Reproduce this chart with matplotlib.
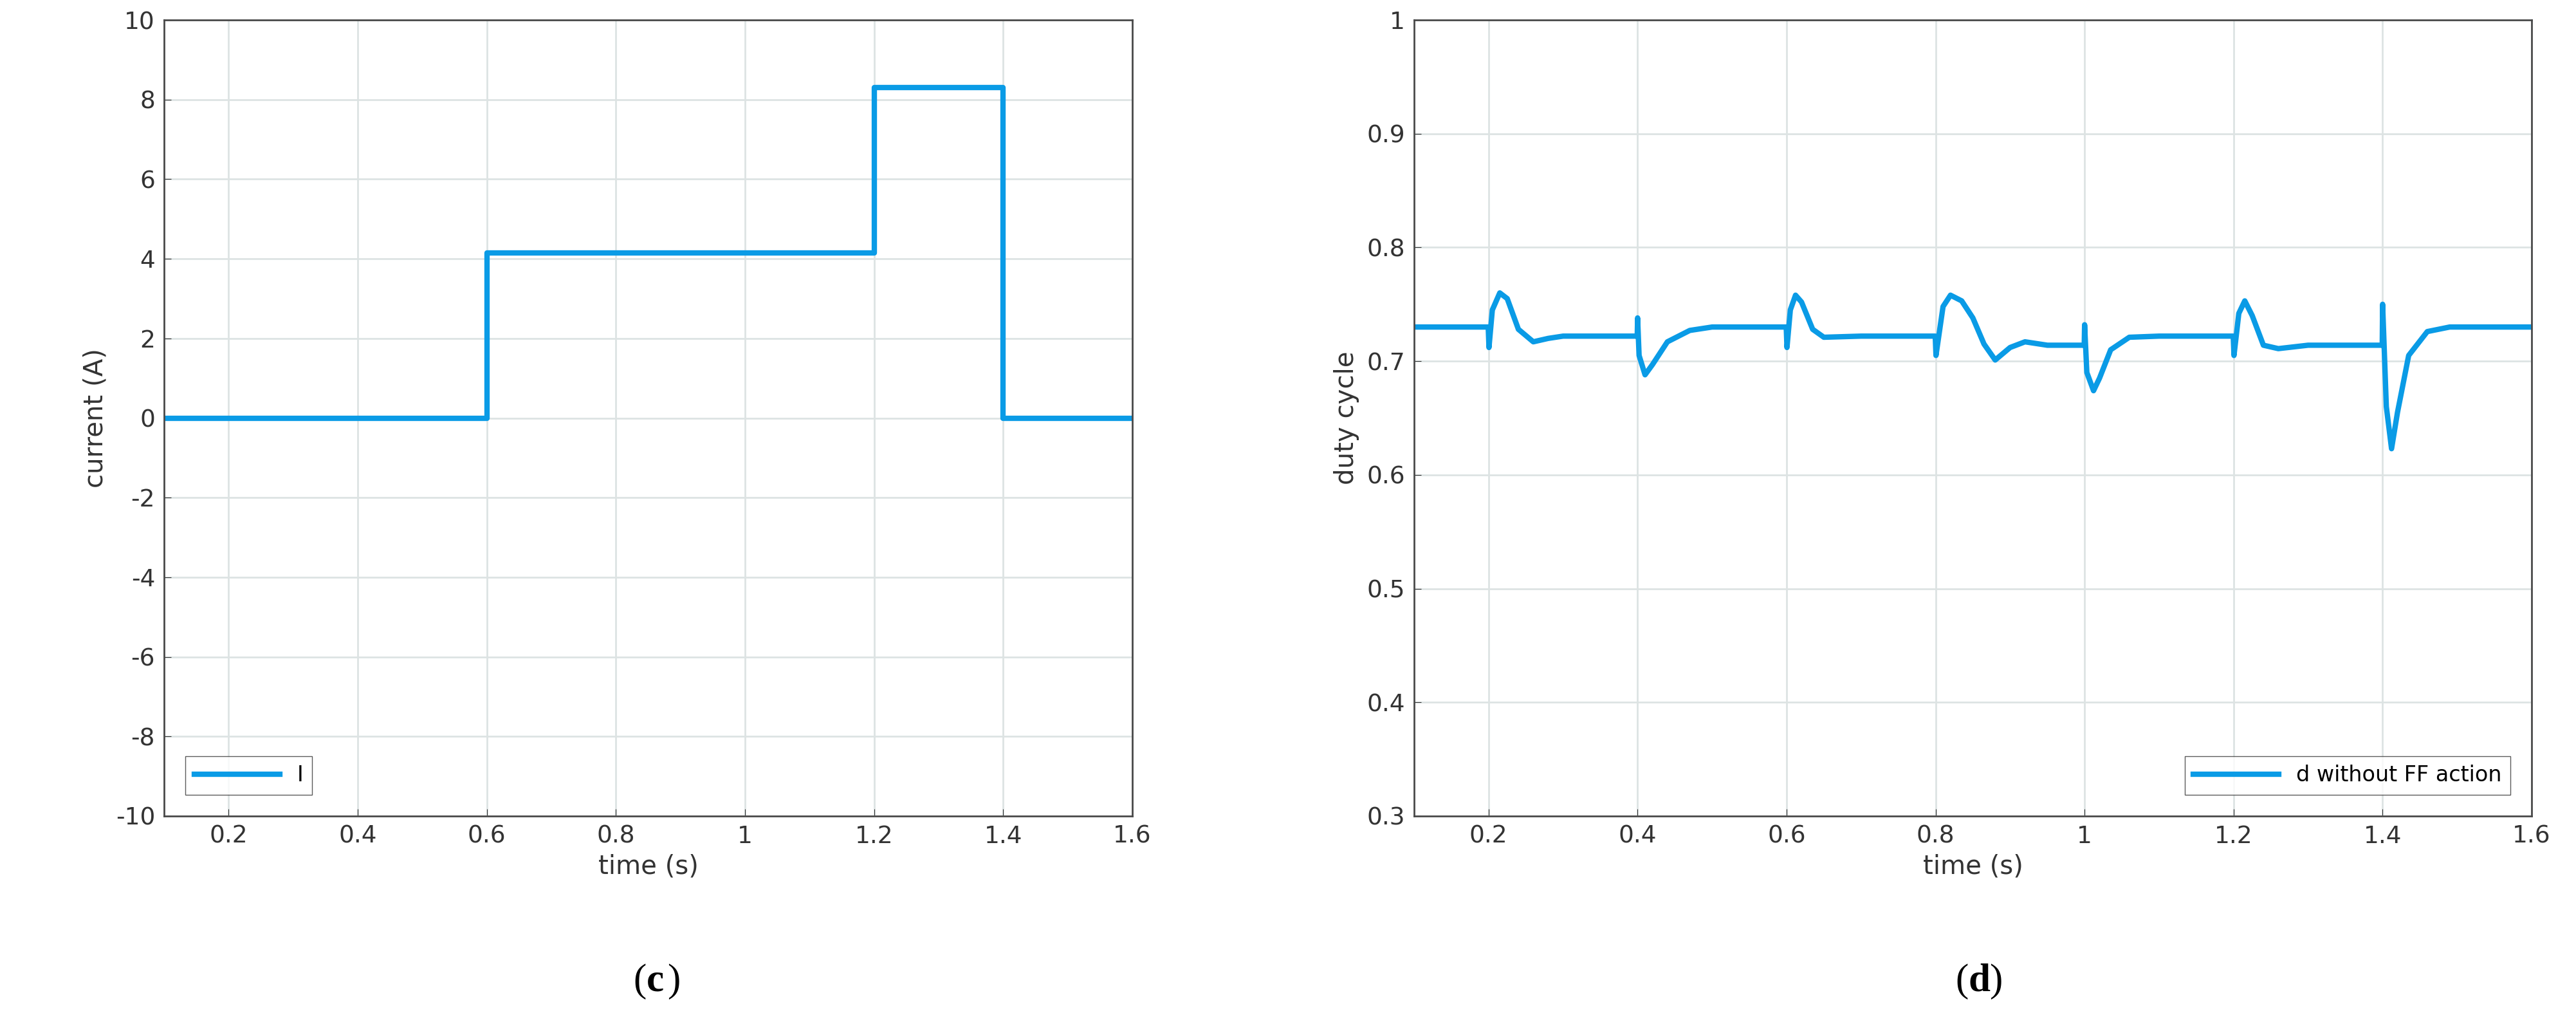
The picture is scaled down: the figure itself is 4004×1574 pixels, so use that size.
import matplotlib
matplotlib.use("Agg")
import matplotlib.pyplot as plt
plt.rcParams["axes.unicode_minus"] = False

# Left panel: load current step profile
t_cur = [0.1, 0.6, 0.6, 1.2, 1.2, 1.4, 1.4, 1.6]
i_cur = [0.0, 0.0, 4.15, 4.15, 8.3, 8.3, 0.0, 0.0]

# Right panel: duty cycle without FF action
t_d = [0.1, 0.1995, 0.2005, 0.205, 0.215, 0.225, 0.24, 0.26, 0.28, 0.3, 0.3995,
       0.4, 0.402, 0.41, 0.42, 0.44, 0.47, 0.5, 0.5995,
       0.6005, 0.605, 0.612, 0.62, 0.635, 0.65, 0.7, 0.7995,
       0.8005, 0.81, 0.82, 0.835, 0.85, 0.865, 0.88, 0.9, 0.92, 0.95, 0.9995,
       1.0, 1.003, 1.012, 1.02, 1.035, 1.06, 1.1, 1.1995,
       1.2005, 1.207, 1.215, 1.225, 1.24, 1.26, 1.3, 1.3995,
       1.4, 1.405, 1.412, 1.42, 1.435, 1.46, 1.49, 1.6]
d_val = [0.730, 0.730, 0.712, 0.745, 0.760, 0.755, 0.728, 0.717, 0.720, 0.722, 0.722,
         0.738, 0.705, 0.688, 0.697, 0.717, 0.727, 0.730, 0.730,
         0.712, 0.745, 0.758, 0.752, 0.728, 0.721, 0.722, 0.722,
         0.705, 0.748, 0.758, 0.753, 0.738, 0.715, 0.701, 0.712, 0.717, 0.714, 0.714,
         0.732, 0.690, 0.674, 0.685, 0.710, 0.721, 0.722, 0.722,
         0.705, 0.742, 0.753, 0.740, 0.714, 0.711, 0.714, 0.714,
         0.750, 0.660, 0.623, 0.655, 0.705, 0.726, 0.730, 0.730]

line_c = "#0a9be6"
W, H = 4004, 1574
fig = plt.figure(figsize=(40.04, 15.74), dpi=100)
ax1 = fig.add_axes([255/W, 1-1268/H, (1760-255)/W, (1268-31)/H])
ax2 = fig.add_axes([2198/W, 1-1268/H, (3935-2198)/W, (1268-31)/H])

def style(ax):
    ax.grid(True, color="#dde3e3", linewidth=2)
    ax.set_axisbelow(True)
    for s in ax.spines.values():
        s.set_color("#4a4a4a"); s.set_linewidth(2)
    ax.tick_params(labelsize=27, colors="#333333", direction="in", length=8, pad=10)
    ax.set_xticks([0.2, 0.4, 0.6, 0.8, 1.0, 1.2, 1.4, 1.6])
    ax.set_xticklabels(["0.2", "0.4", "0.6", "0.8", "1", "1.2", "1.4", "1.6"])
    ax.set_xlim(0.1, 1.6)
    ax.set_xlabel("time (s)", fontsize=29, color="#333333", labelpad=6)

ax1.plot(t_cur, i_cur, color=line_c, lw=6, label="I")
style(ax1)
ax1.set_ylim(-10, 10)
ax1.set_yticks(range(-10, 11, 2))
ax1.set_ylabel("current (A)", fontsize=29, color="#333333", labelpad=8)
ax1.legend(loc="lower left", fontsize=24, frameon=True, fancybox=False,
           edgecolor="#333333", handlelength=4, borderaxespad=1.0)

ax2.plot(t_d, d_val, color=line_c, lw=6, label="d without FF action")
style(ax2)
ax2.set_ylim(0.3, 1.0)
ax2.set_yticks([0.3, 0.4, 0.5, 0.6, 0.7, 0.8, 0.9, 1.0])
ax2.set_yticklabels(["0.3", "0.4", "0.5", "0.6", "0.7", "0.8", "0.9", "1"])
ax2.set_ylabel("duty cycle", fontsize=29, color="#333333", labelpad=8)
ax2.legend(loc="lower right", fontsize=24, frameon=True, fancybox=False,
           edgecolor="#333333", handlelength=4, borderaxespad=1.0)

for x0, letter in [(1005, "c"), (3060, "d")]:
    fig.text(x0/W, 1-1525/H, "(", fontsize=44, family="Liberation Serif", ha="right", va="center")
    t = fig.text(x0/W, 1-1525/H, letter, fontsize=44, family="Liberation Serif", weight="bold", ha="left", va="center")
    fig.text((x0+32)/W, 1-1525/H, ")", fontsize=44, family="Liberation Serif", ha="left", va="center")

fig.savefig("out.png", dpi=100, facecolor="white")
